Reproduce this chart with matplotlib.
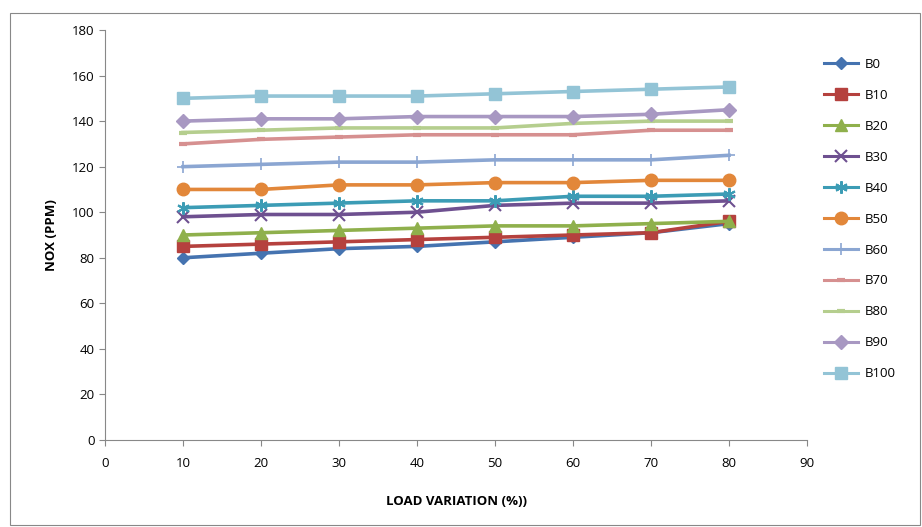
import matplotlib
matplotlib.use("Agg")
import matplotlib.pyplot as plt
from matplotlib.patches import Rectangle

plt.rcParams['font.family'] = ['Open Sans', 'DejaVu Sans']

load = [10, 20, 30, 40, 50, 60, 70, 80]
B0 = [80, 82, 84, 85, 87, 89, 91, 95]
B10 = [85, 86, 87, 88, 89, 90, 91, 96]
B20 = [90, 91, 92, 93, 94, 94, 95, 96]
B30 = [98, 99, 99, 100, 103, 104, 104, 105]
B40 = [102, 103, 104, 105, 105, 107, 107, 108]
B50 = [110, 110, 112, 112, 113, 113, 114, 114]
B60 = [120, 121, 122, 122, 123, 123, 123, 125]
B70 = [130, 132, 133, 134, 134, 134, 136, 136]
B80 = [135, 136, 137, 137, 137, 139, 140, 140]
B90 = [140, 141, 141, 142, 142, 142, 143, 145]
B100 = [150, 151, 151, 151, 152, 153, 154, 155]

names = ["B0", "B10", "B20", "B30", "B40", "B50", "B60", "B70", "B80", "B90", "B100"]
series = [B0, B10, B20, B30, B40, B50, B60, B70, B80, B90, B100]
colors = ['#4573B0', '#B5413E', '#8FB04C', '#6E5090', '#3C9CB5', '#E2873A',
          '#8BA6D2', '#D69090', '#B5CE8E', '#A898C2', '#93C4D6']
markers = ['D', 's', '^', 'x', (6, 2, 0), 'o', '+', '_', '_', 'D', 's']
msizes = [6, 8, 8, 8, 9, 9, 9, 6, 6, 7, 8.5]
mews = [1, 1, 1, 1.5, 1.5, 1, 1.2, 3, 3, 1, 1]

fig = plt.figure(figsize=(9.22, 5.27), dpi=100)
fig.patches.append(Rectangle((10/922, 1-525/527), 910/922, 512/527, transform=fig.transFigure,
                             fill=False, edgecolor='#888888', linewidth=0.8))
ax = fig.add_axes([105/922, 1-440/527, (807-105)/922, (440-30)/527])

for name, vals, c, m, ms, mew in zip(names, series, colors, markers, msizes, mews):
    ax.plot(load, vals, color=c, linewidth=2.6, marker=m, markersize=ms,
            markeredgewidth=mew, markerfacecolor=c, markeredgecolor=c, label=name)

ax.set_xlim(0, 90)
ax.set_ylim(0, 180)
ax.set_xticks(range(0, 91, 10))
ax.set_yticks(range(0, 181, 20))
for s in ['top', 'right']:
    ax.spines[s].set_visible(False)
for s in ['left', 'bottom']:
    ax.spines[s].set_color('#888888')
ax.tick_params(axis='both', colors='#888888', labelcolor='black', labelsize=9.5, length=4, direction='out')
ax.tick_params(axis='x', pad=8)
ax.set_ylabel("NOX (PPM)", fontsize=9.5, fontweight='bold', labelpad=10)
ax.set_xlabel("LOAD VARIATION (%))", fontsize=9.5, fontweight='bold', labelpad=18)

leg = ax.legend(loc='upper left', bbox_to_anchor=(812/922, 1-46/527), bbox_transform=fig.transFigure,
                frameon=False, fontsize=9.5, labelspacing=1.36, handlelength=2.6, handletextpad=0.5)
for h in leg.legend_handles:
    h.set_linewidth(2.2)

fig.savefig("out.png", dpi=100)
